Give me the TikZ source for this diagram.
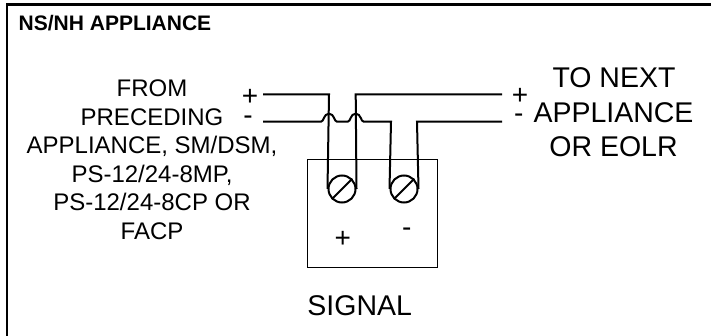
\documentclass[tikz,border=0pt]{standalone}
\usepackage{fontspec}
\setmainfont{Liberation Sans}
\tikzset{
  x=1pt,y=-1pt,
  wire/.style={line width=2pt,line join=miter},
  lab/.style={inner sep=0pt,anchor=base,font=\fontsize{24}{24}\selectfont},
  big/.style={inner sep=0pt,anchor=base,font=\fontsize{28.5}{28.5}\selectfont},
  sign/.style={inner sep=0pt,font=\fontsize{28}{28}\selectfont},
  screw/.style={circle,draw,line width=2pt,minimum size=27pt,inner sep=0pt}
}
\begin{document}
\begin{tikzpicture}
\useasboundingbox (0,0) rectangle (711,336);
\draw[line width=2.6pt] (7,337) -- (7,4.7) -- (712,4.7);
\node[inner sep=0pt,anchor=base west,font=\bfseries\fontsize{21}{21}\selectfont] (title) at (18.5,31) {NS/NH APPLIANCE};
\node[draw,line width=0.8pt,minimum width=130pt,minimum height=108pt,inner sep=0pt] (box) at (372,213) {};
\node[screw] (s1) at (342,189) {};
\node[screw] (s2) at (404,189) {};
\draw[line width=2pt] (s1.south west) -- (s1.north east);
\draw[line width=2pt] (s2.south west) -- (s2.north east);
\coordinate (a1) at (263,94.5);
\coordinate (a2) at (502,94.5);
\coordinate (b1) at (263,121.7);
\coordinate (b2) at (502,121.7);
\draw[wire] (a1) -- (329,94.5) -- (s1.west);
\draw[wire] (a2) -- (355.7,94.5) -- (s1.east);
\draw[wire] (b1) -- (321,121.7) .. controls (324,121.7) and (323.5,113.7) .. (329,113.7) .. controls (334.5,113.7) and (334,121.7) .. (337,121.7) -- (347.7,121.7) .. controls (350.7,121.7) and (350.2,113.7) .. (355.7,113.7) .. controls (361.2,113.7) and (360.7,121.7) .. (363.7,121.7) -- (391,121.7) -- (s2.west);
\draw[wire] (b2) -- (417,121.7) -- (s2.east);
\node[lab] (l1) at (152,96.7) {FROM};
\node[lab] (l2) at (152,125.3) {PRECEDING};
\node[lab] (l3) at (152,153.9) {APPLIANCE, SM/DSM,};
\node[lab] (l4) at (152,182.5) {PS-12/24-8MP,};
\node[lab] (l5) at (152,211) {PS-12/24-8CP OR};
\node[lab] (l6) at (152,239.6) {FACP};
\node[sign] (p1) at (250,97.7) {+};
\node[sign] (m1) at (248,120) {-};
\node[sign] (p2) at (520,96.7) {+};
\node[sign] (m2) at (518.7,118.3) {-};
\node[big] (r1) at (614,87.7) {TO NEXT};
\node[big] (r2) at (613.5,122.3) {APPLIANCE};
\node[big] (r3) at (613.5,156.7) {OR EOLR};
\node[sign] (pl) at (342.7,239.3) {+};
\node[sign] (mi) at (406.7,232.7) {-};
\node[big] (sig) at (359.7,315) {SIGNAL};
\end{tikzpicture}
\end{document}
